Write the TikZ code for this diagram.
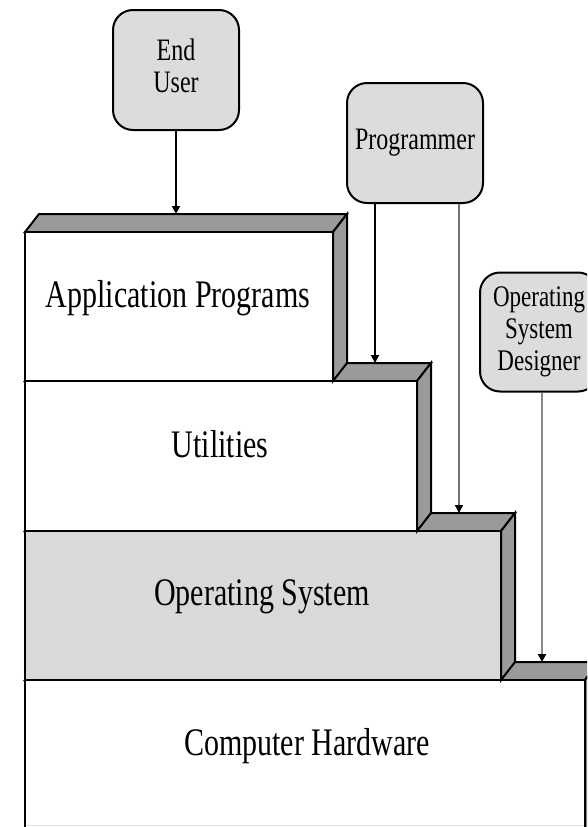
\documentclass[tikz,border=0pt]{standalone}
\usepackage{fontspec}
\setmainfont{Liberation Serif}
\usepackage{graphicx}
\usetikzlibrary{arrows.meta}
\definecolor{facegray}{HTML}{9A9A9A}
\definecolor{boxgray}{HTML}{DCDCDC}
\definecolor{osgray}{HTML}{D9D9D9}
\definecolor{linegray}{HTML}{707070}
\definecolor{linegrayb}{HTML}{8A8A8A}
\newcommand{\tallt}[1]{\scalebox{1}[1.3]{#1}}
\newcommand{\drawlayer}[5]{%
  \path[bevel] (#1,#2) -- (#1+14,#2-18) -- (#3+14,#2-18) -- (#3,#2) -- cycle;
  \path[bevel] (#3,#2) -- (#3+14,#2-18) -- (#3+14,#4-18) -- (#3,#4) -- cycle;
  \path[outline,fill=#5] (#1,#2) rectangle (#3,#4);
}
\begin{document}
\begin{tikzpicture}[x=1pt,y=-1pt,
  outline/.style={draw=black,line width=2pt,line join=miter},
  bevel/.style={outline,fill=facegray},
  actor/.style={draw=black,line width=2pt,fill=boxgray,rounded corners=20pt,inner sep=0pt,font=\fontsize{24}{25}\selectfont,align=center},
  layertext/.style={anchor=base,inner sep=0pt,font=\fontsize{30}{32}\selectfont},
  arr/.style={line width=1.8pt,-{Triangle[width=8pt,length=8pt,color=black]}},
]
\useasboundingbox (0,0) rectangle (587,827);
\clip (0,0) rectangle (587,827);
\fill[white] (0,0) rectangle (587,827);

% layers, bottom first
\drawlayer{25}{680}{585}{845}{white}
\drawlayer{25}{531}{501}{680}{osgray}
\drawlayer{25}{381}{417}{531}{white}
\drawlayer{25}{232}{333}{381}{white}
\draw[gray!25,line width=1.5pt] (26,825.5) -- (584,825.5);

\node[layertext] (tapp) at (178,307) {\tallt{Application Programs}};
\node[layertext] (tutil) at (220,457) {\tallt{Utilities}};
\node[layertext] (tos) at (262,605) {\tallt{Operating System}};
\node[layertext] (thw) at (307,755) {\tallt{Computer Hardware}};

% actors
\node[actor,minimum width=126pt,minimum height=120pt] (eu) at (176,70)
  {\tallt{\begin{tabular}{@{}c@{}}End\\User\end{tabular}}};
\node[actor,minimum width=136pt,minimum height=120pt] (prog) at (415,143)
  {\tallt{Programmer}};
\node[actor,minimum width=118pt,minimum height=119pt,font=\fontsize{23}{24.5}\selectfont] (osd) at (539,332)
  {\tallt{\begin{tabular}{@{}c@{}}Operating\\System\\Designer\end{tabular}}};

% arrow targets on the top bevels
\coordinate (appT) at (176,214);
\coordinate (utilT) at (375,363);
\coordinate (osT) at (459,513);
\coordinate (hwT) at (542,662);

\draw[arr] (eu.south) -- (appT);
\draw[arr] (prog.south -| utilT) -- (utilT);
\draw[arr,draw=linegray,line width=1.5pt] (prog.south -| osT) -- (osT);
\draw[arr,draw=linegrayb,line width=2.4pt] (osd.south -| hwT) -- (hwT);
\end{tikzpicture}
\end{document}
